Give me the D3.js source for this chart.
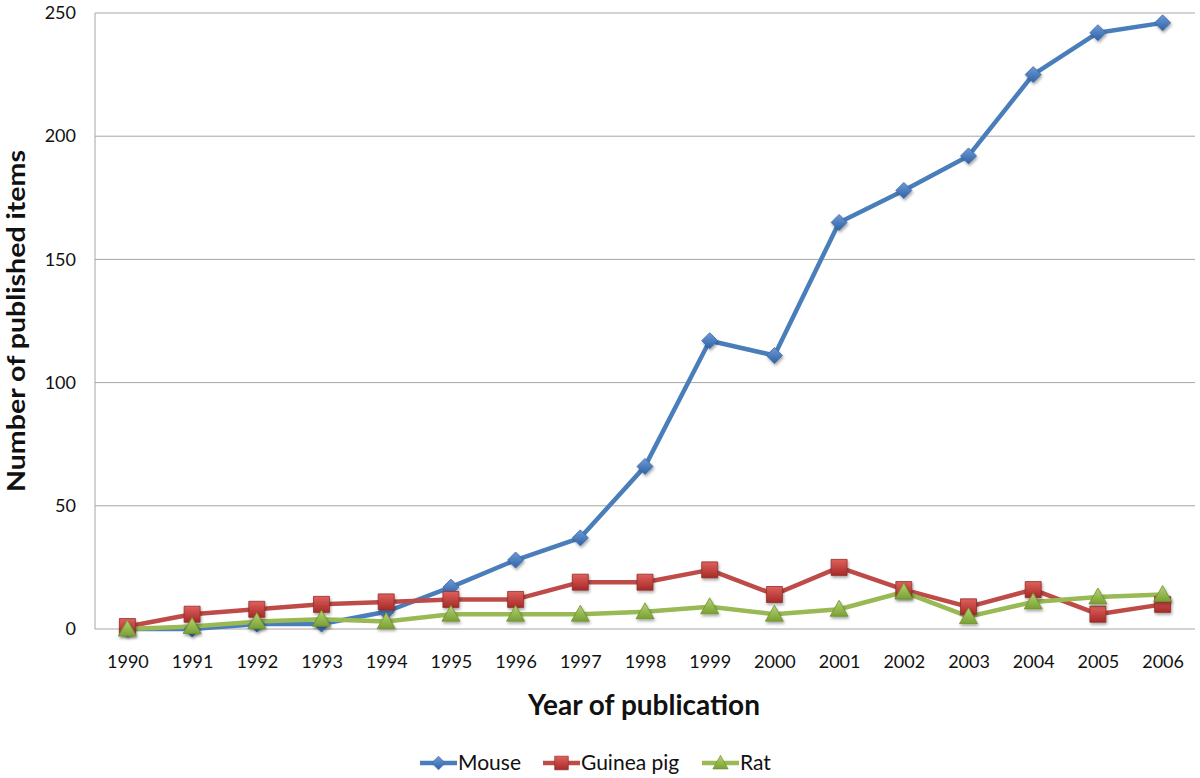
<!DOCTYPE html>
<html><head><meta charset="utf-8">
<script src="https://cdn.jsdelivr.net/npm/d3@7"></script>
<style>body{margin:0;background:#fff}svg{display:block}</style>
</head><body>
<script>
const years = ["1990","1991","1992","1993","1994","1995","1996","1997","1998","1999","2000","2001","2002","2003","2004","2005","2006"];
const mouse = [0,0,2,2,7,17,28,37,66,117,111,165,178,192,225,242,246];
const guineaPig = [1,6,8,10,11,12,12,19,19,24,14,25,16,9,16,6,10];
const rat = [0,1,3,4,3,6,6,6,7,9,6,8,15,5,11,13,14];
const yTicks = [0,50,100,150,200,250];
const seriesNames = ["Mouse","Guinea pig","Rat"];

const W=1200,H=778;
const m={left:95,right:5,top:13,bottom:149};
const svg=d3.select("body").append("svg").attr("width",W).attr("height",H);
const font="Lato, 'Open Sans', sans-serif";

const defs=svg.append("defs");
function grad(id,c1,c2){
  const g=defs.append("linearGradient").attr("id",id).attr("x1","0").attr("y1","0").attr("x2","0").attr("y2","1");
  g.append("stop").attr("offset","0").attr("stop-color",c1);
  g.append("stop").attr("offset","1").attr("stop-color",c2);
}
grad("gB","#6f9ad6","#2e62a8");
grad("gR","#e0605c","#a52a27");
grad("gG","#b6d470","#78a034");
const f=defs.append("filter").attr("id","sh").attr("x","-50%").attr("y","-50%").attr("width","200%").attr("height","200%");
f.append("feDropShadow").attr("dx",1).attr("dy",2).attr("stdDeviation",1.5).attr("flood-color","#000").attr("flood-opacity",0.35);

const x=d3.scalePoint().domain(years).range([m.left+32.4,W-m.right-32.4]);
const y=d3.scaleLinear().domain([0,250]).range([H-m.bottom,m.top]);

// gridlines
svg.append("g").selectAll("line").data(yTicks.filter(d=>d>0)).join("line")
  .attr("x1",m.left).attr("x2",W-m.right).attr("y1",d=>y(d)).attr("y2",d=>y(d))
  .attr("stroke","#a6a6a6").attr("stroke-width",1);
// axes lines
svg.append("line").attr("x1",m.left).attr("x2",m.left).attr("y1",m.top).attr("y2",y(0)).attr("stroke","#a6a6a6");
svg.append("line").attr("x1",m.left).attr("x2",W-m.right).attr("y1",y(0)).attr("y2",y(0)).attr("stroke","#a6a6a6");

// y labels
const yAxis=d3.axisLeft(y).tickValues(yTicks).tickSize(0).tickPadding(0);
const ga=svg.append("g").attr("transform",`translate(${m.left-19},0)`).call(yAxis);
ga.select(".domain").remove();
ga.selectAll("text").attr("font-family",font).attr("font-size",18).attr("fill","#111");

// x labels
const xAxis=d3.axisBottom(x).tickSize(0).tickPadding(0);
const gx=svg.append("g").attr("transform",`translate(0,${y(0)+26})`).call(xAxis);
gx.select(".domain").remove();
gx.selectAll("text").attr("font-family",font).attr("font-size",18).attr("fill","#111");

// titles
svg.append("text").attr("x",644).attr("y",715).attr("text-anchor","middle")
  .attr("font-family",font).attr("font-weight","bold").attr("font-size",28).attr("fill","#111")
  .attr("textLength",232).attr("lengthAdjust","spacingAndGlyphs").text("Year of publication");
svg.append("text").attr("transform","translate(25,321) rotate(-90)").attr("text-anchor","middle")
  .attr("font-family",font).attr("font-weight","bold").attr("font-size",25).attr("fill","#111")
  .attr("textLength",342).attr("lengthAdjust","spacingAndGlyphs").text("Number of published items");

const series=[
  {name:seriesNames[0],vals:mouse,line:"#4a7ebb",fill:"url(#gB)",stroke:"#3a6aa8",shape:"diamond"},
  {name:seriesNames[1],vals:guineaPig,line:"#be4b48",fill:"url(#gR)",stroke:"#8f2f2c",shape:"square"},
  {name:seriesNames[2],vals:rat,line:"#98b954",fill:"url(#gG)",stroke:"#6f902f",shape:"triangle"}
];
function markerPath(shape){
  if(shape==="diamond") return "M0,-8L8,0L0,8L-8,0Z";
  if(shape==="square") return "M-8,-8H8V8H-8Z";
  return "M0,-9L9,7H-9Z";
}
const line=d3.line().x((d,i)=>x(years[i])).y(d=>y(d));
series.forEach(s=>{
  svg.append("path").datum(s.vals).attr("d",line).attr("fill","none")
    .attr("stroke",s.line).attr("stroke-width",4.5).attr("stroke-linejoin","round");
});
series.forEach(s=>{
  const g=svg.append("g");
  g.selectAll("path").data(s.vals).join("path")
    .attr("transform",(d,i)=>`translate(${x(years[i])},${y(d)})`)
    .attr("d",markerPath(s.shape)).attr("fill",s.fill).attr("stroke",s.stroke).attr("stroke-width",0.8)
    .attr("filter","url(#sh)");
});

// legend
const lx=[420,543,702];
series.forEach((s,i)=>{
  const g=svg.append("g").attr("transform",`translate(${lx[i]},763)`);
  g.append("line").attr("x1",0).attr("x2",37).attr("stroke",s.line).attr("stroke-width",4.5);
  g.append("path").attr("transform","translate(18.5,0) scale(0.85)").attr("d",markerPath(s.shape))
    .attr("fill",s.fill).attr("stroke",s.stroke).attr("stroke-width",0.8);
  g.append("text").attr("x",38).attr("y",7).attr("font-family",font).attr("font-size",21).attr("fill","#111").text(s.name);
});
</script>
</body></html>
